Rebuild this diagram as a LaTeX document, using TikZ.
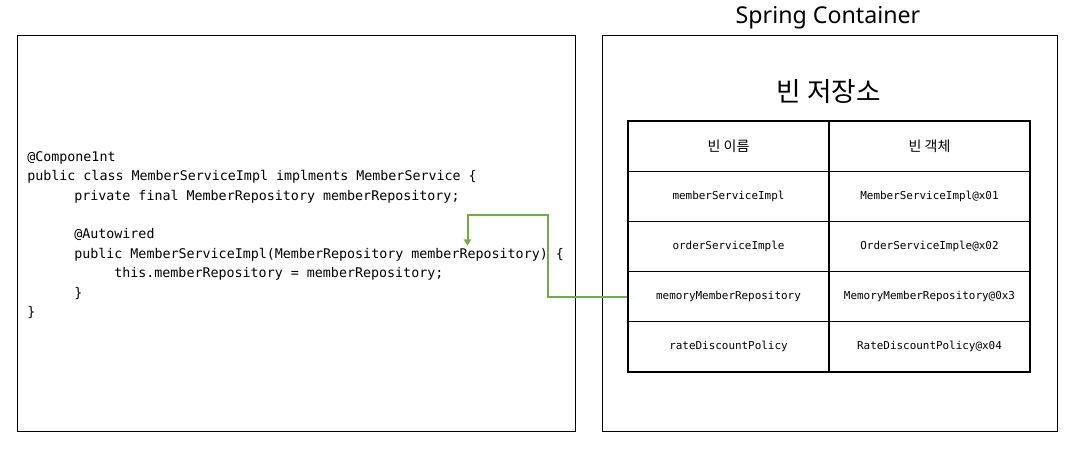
\documentclass[tikz,border=0pt]{standalone}
\usepackage{fontspec}
\setmainfont{Noto Sans}
\newfontfamily\krfont{Noto Sans CJK KR}
\newfontfamily\codefont{DejaVu Sans Mono}
\usetikzlibrary{arrows.meta}
\definecolor{injectgreen}{RGB}{112,173,71}
\tikzset{
	box/.style={draw,line width=0.75pt},
	codeline/.style={anchor=base west,inner sep=0,font=\codefont\fontsize{10}{12}\selectfont},
	cell/.style={draw,line width=0.9pt,inner sep=0,minimum width=150.75pt,minimum height=37.65pt,font=\codefont\fontsize{8.2}{10}\selectfont},
	headcell/.style={cell,font=\krfont\fontsize{10.5}{12}\selectfont},
	inject/.style={draw=injectgreen,line width=1.5pt,-{Triangle[width=5.5pt,length=4.5pt]}}
}

\begin{document}
\begin{tikzpicture}[x=0.75pt,y=-0.75pt]
	\useasboundingbox (0,0) rectangle (1075,452);
	\draw[box] (17,36) rectangle (575,431);
	\draw[box] (602,36) rectangle (1057,431);
	\node[font=\fontsize{17.4}{20}\selectfont] (container) at (828,18) {Spring Container};
	\node[font=\krfont\fontsize{20}{24}\selectfont] (store) at (829,92) {빈 저장소};
	\node[codeline] (c1) at (27,161.5) {@Compone1nt};
	\node[codeline] (c2) at (27,180.8) {public class MemberServiceImpl implments MemberService \{};
	\node[codeline] (c3) at (74,200.2) {private final MemberRepository memberRepository;};
	\node[codeline] (c4) at (74,239) {@Autowired};
	\node[codeline] (c5) at (74,258.4) {public MemberServiceImpl(MemberRepository memberRepository) \{};
	\node[codeline] (c6) at (114,277.8) {this.memberRepository = memberRepository;};
	\node[codeline] (c7) at (74,297.2) {\}};
	\node[codeline] (c8) at (27,316.6) {\}};
	\node[headcell] (h1) at (728.5,146.1) {빈 이름};
	\node[headcell] (h2) at (929.5,146.1) {빈 객체};
	\node[cell] (n1) at (728.5,196.3) {memberServiceImpl};
	\node[cell] (o1) at (929.5,196.3) {MemberServiceImpl@x01};
	\node[cell] (n2) at (728.5,246.5) {orderServiceImple};
	\node[cell] (o2) at (929.5,246.5) {OrderServiceImple@x02};
	\node[cell] (n3) at (728.5,296.7) {memoryMemberRepository};
	\node[cell] (o3) at (929.5,296.7) {MemoryMemberRepository@0x3};
	\node[cell] (n4) at (728.5,346.9) {rateDiscountPolicy};
	\node[cell] (o4) at (929.5,346.9) {RateDiscountPolicy@x04};
	\coordinate (bend) at (547.5,215.5);
	\coordinate (param) at (467.5,245.5);
	\draw[inject] (n3.west) -| (bend) -| (param);
\end{tikzpicture}
\end{document}
